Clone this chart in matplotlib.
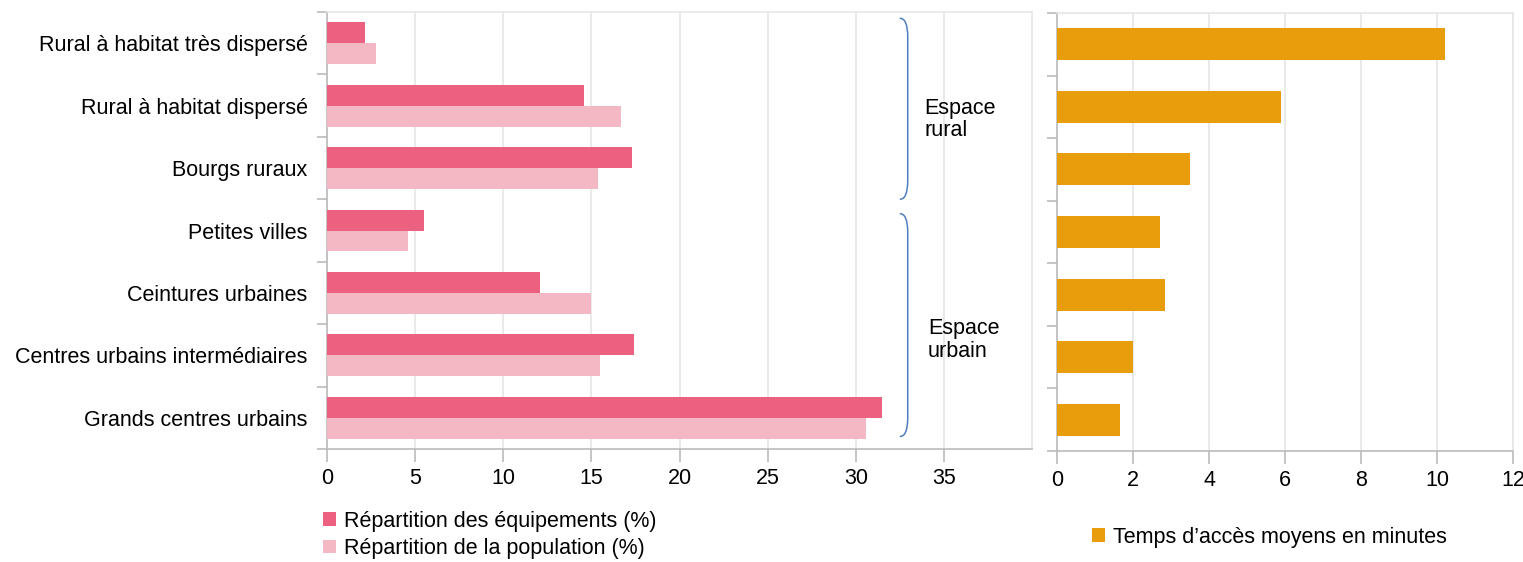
import numpy as np
import matplotlib.pyplot as plt
from matplotlib.path import Path
from matplotlib.patches import PathPatch

plt.rcParams['font.family'] = ['Liberation Sans', 'DejaVu Sans']

# Donnees
categories = ["Rural à habitat très dispersé", "Rural à habitat dispersé", "Bourgs ruraux",
              "Petites villes", "Ceintures urbaines", "Centres urbains intermédiaires",
              "Grands centres urbains"]
equipements = [2.15, 14.6, 17.3, 5.5, 12.1, 17.4, 31.5]
population = [2.8, 16.7, 15.4, 4.6, 15.0, 15.5, 30.6]
temps_acces = [10.2, 5.9, 3.5, 2.7, 2.83, 2.0, 1.66]

c_equip = "#EC6080"
c_pop = "#F4B8C4"
c_temps = "#E89E0C"
c_grid = "#E6E6E6"
c_axe = "#BBBBBB"
fs = 15.5

W, H = 1523, 562
fig = plt.figure(figsize=(W / 100, H / 100), dpi=100)
ax1 = fig.add_axes([327 / W, (H - 449) / H, (1032 - 327) / W, (449 - 12) / H])
ax2 = fig.add_axes([1057 / W, (H - 451) / H, (1513 - 1057) / W, (451 - 13) / H])

y = np.arange(len(categories))
h = 0.335
ax1.barh(y - h / 2, equipements, height=h, color=c_equip, label="Répartition des équipements (%)", zorder=3)
ax1.barh(y + h / 2, population, height=h, color=c_pop, label="Répartition de la population (%)", zorder=3)
ax2.barh(y, temps_acces, height=0.51, color=c_temps, label="Temps d\u2019accès moyens en minutes", zorder=3)

for ax, xmax, step in [(ax1, 40, 5), (ax2, 12, 2)]:
    ax.set_ylim(len(categories) - 0.5, -0.5)
    ax.set_xlim(0, xmax)
    ax.grid(axis="x", color=c_grid, linewidth=1.2, zorder=0)
    ax.set_yticks(np.arange(-0.5, len(categories), 1), minor=True)
    ax.tick_params(axis="y", which="minor", length=7, color=c_axe, width=1.2)
    ax.tick_params(axis="y", which="major", length=0, pad=14, labelsize=fs)
    ax.tick_params(axis="x", length=9, color=c_axe, width=1.2, labelsize=fs, pad=5)
    for s in ["top", "right"]:
        ax.spines[s].set_color(c_grid)
        ax.spines[s].set_linewidth(1.2)
    for s in ["left", "bottom"]:
        ax.spines[s].set_color(c_axe)
        ax.spines[s].set_linewidth(1.2)

ax1.set_xticks(np.arange(0, 36, 5))
ax2.set_xticks(np.arange(0, 13, 2))
ax1.set_yticks(y)
ax1.set_yticklabels(categories)
ax2.set_yticks(y)
ax2.set_yticklabels([])

# Accolades
def accolade(ax, y0, y1, x0, x1):
    r = 0.3
    verts = [(x0, y0), (x1, y0), (x1, y0 + r), (x1, y1 - r), (x1, y1), (x0, y1)]
    codes = [Path.MOVETO, Path.CURVE3, Path.CURVE3, Path.LINETO, Path.CURVE3, Path.CURVE3]
    ax.add_patch(PathPatch(Path(verts, codes), fill=False, edgecolor="#4F7FC0", linewidth=1.1, clip_on=False))

accolade(ax1, -0.4, 2.5, 32.5, 32.95)
accolade(ax1, 2.73, 6.3, 32.5, 32.95)
ax1.text(33.9, 1.22, "Espace\nrural", fontsize=fs, va="center", ha="left", linespacing=1.1)
ax1.text(34.1, 4.75, "Espace\nurbain", fontsize=fs, va="center", ha="left", linespacing=1.1)

fig.legend(*ax1.get_legend_handles_labels(), loc="upper left", bbox_to_anchor=(314 / W, 1 - 502 / H),
           frameon=False, fontsize=fs, handlelength=0.6, handleheight=0.6, handletextpad=0.4,
           labelspacing=0.3, borderaxespad=0)
fig.legend(*ax2.get_legend_handles_labels(), loc="upper left", bbox_to_anchor=(1083 / W, 1 - 518 / H),
           frameon=False, fontsize=fs, handlelength=0.6, handleheight=0.6, handletextpad=0.4,
           borderaxespad=0)

plt.savefig("out.png", dpi=100)
